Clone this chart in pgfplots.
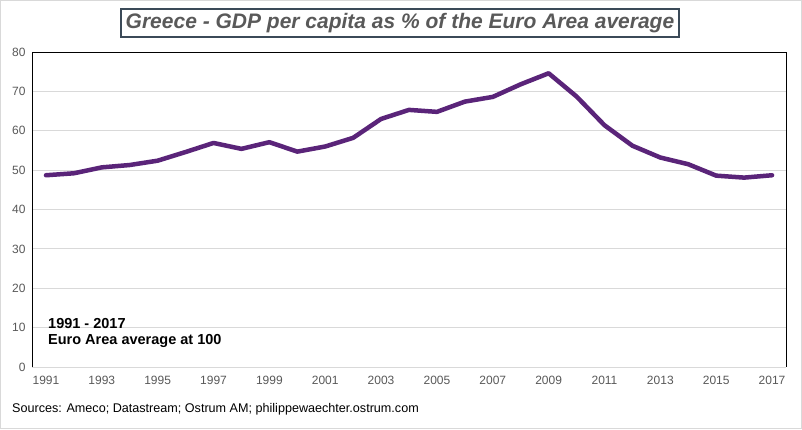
\documentclass[border=0pt]{standalone}
\usepackage{pgfplots}
\pgfplotsset{compat=1.18}
\usepackage{fontspec}
\setmainfont{Liberation Sans}
\definecolor{linecol}{HTML}{5A2479}
\definecolor{ticktxt}{HTML}{595959}
\definecolor{gridc}{HTML}{D9D9D9}
\definecolor{titlebox}{HTML}{3B4A58}
\begin{document}
\begin{tikzpicture}[x=1pt,y=1pt]
\useasboundingbox (0,0) rectangle (802,429);
\fill[white] (0,0) rectangle (802,429);
\draw[gridc, line width=1pt] (0.5,0.5) rectangle (801.5,428.5);
\begin{axis}[
  at={(32pt,62pt)}, anchor=south west,
  scale only axis, width=754pt, height=315pt,
  xmin=1990.5, xmax=2017.5, ymin=0, ymax=80,
  xtick={1991,1993,...,2017}, ytick={0,10,...,80},
  /pgf/number format/1000 sep={},
  /pgf/number format/assume math mode=true,
  major tick length=0pt,
  ymajorgrids, grid style={gridc, line width=0.8pt},
  axis line style={draw=none},
  tick label style={font=\fontsize{12}{14}\selectfont, text=ticktxt},
  xticklabel style={yshift=-6pt},
  yticklabel style={xshift=-3pt},
  clip=false,
]
\addplot[linecol, line width=4.5pt, line join=round, line cap=round] coordinates {
(1991,48.7) (1992,49.2) (1993,50.7) (1994,51.3) (1995,52.4) (1996,54.6)
(1997,56.9) (1998,55.4) (1999,57.1) (2000,54.7) (2001,56.0) (2002,58.2)
(2003,63.0) (2004,65.3) (2005,64.8) (2006,67.4) (2007,68.6) (2008,71.8)
(2009,74.6) (2010,68.7) (2011,61.4) (2012,56.2) (2013,53.2) (2014,51.5)
(2015,48.6) (2016,48.1) (2017,48.7)
};
\draw[gridc, line width=1pt] (rel axis cs:0,0) -- (rel axis cs:1,0);
\draw[black, line width=1pt] (rel axis cs:0,0) -- (rel axis cs:0,1) -- (rel axis cs:1,1) -- (rel axis cs:1,0);
\end{axis}
\node[draw=titlebox, line width=2pt, inner xsep=5pt, inner ysep=4pt, text=ticktxt, font=\fontsize{21}{24}\selectfont\bfseries\itshape] at (400,406) {Greece - GDP per capita as \% of the Euro Area average};
\node[anchor=base west, inner sep=0pt, font=\fontsize{14.5}{17}\selectfont\bfseries] at (48,101) {1991 - 2017};
\node[anchor=base west, inner sep=0pt, font=\fontsize{14.5}{17}\selectfont\bfseries] at (48,85) {Euro Area average at 100};
\node[anchor=base west, inner sep=0pt, font=\fontsize{12.6}{14}\selectfont] at (12,17) {Sources: Ameco; Datastream; Ostrum AM; philippewaechter.ostrum.com};
\end{tikzpicture}
\end{document}
